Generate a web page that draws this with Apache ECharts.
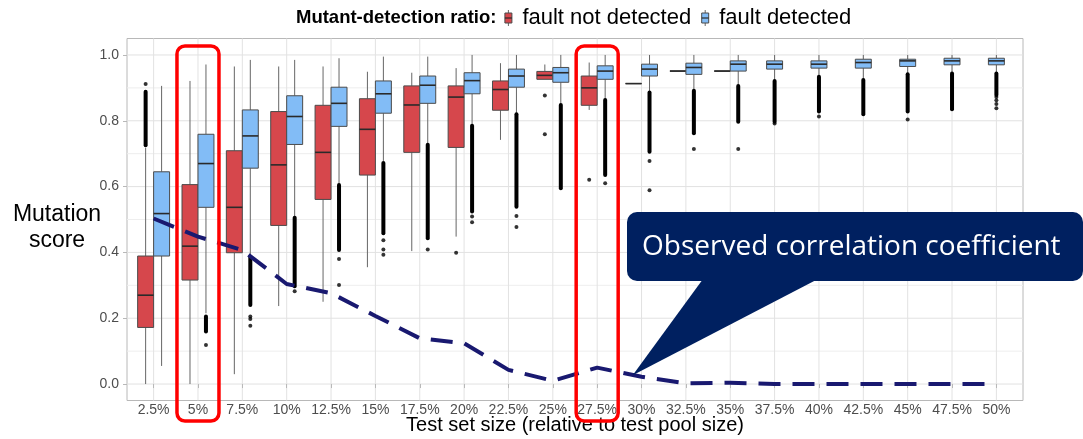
<!DOCTYPE html>
<html>
<head>
<meta charset="utf-8">
<script src="https://cdn.jsdelivr.net/npm/echarts@6/dist/echarts.min.js"></script>
<style>
  html, body { margin: 0; padding: 0; background: #fff; }
  #chart { width: 1083px; height: 439px; }
</style>
</head>
<body>
<div id="chart"></div>
<script>
// test set size categories
const sizes = ["2.5%", "5%", "7.5%", "10%", "12.5%", "15%", "17.5%", "20%", "22.5%", "25%",
  "27.5%", "30%", "32.5%", "35%", "37.5%", "40%", "42.5%", "45%", "47.5%", "50%"];

// box stats: [lower whisker, q1, median, q3, upper whisker]
const notDetected = [
  [0.000, 0.172, 0.270, 0.389, 0.718],
  [0.000, 0.316, 0.419, 0.606, 0.921],
  [0.030, 0.399, 0.537, 0.709, 0.965],
  [0.237, 0.482, 0.666, 0.828, 0.965],
  [0.250, 0.561, 0.704, 0.847, 0.965],
  [0.355, 0.635, 0.774, 0.867, 0.949],
  [0.404, 0.704, 0.848, 0.906, 0.946],
  [0.448, 0.719, 0.872, 0.906, 0.960],
  [0.742, 0.832, 0.895, 0.921, 0.975],
  [0.926, 0.926, 0.938, 0.950, 0.971],
  [0.833, 0.847, 0.900, 0.936, 0.977],
  [0.913, 0.913, 0.913, 0.913, 0.913],
  [0.951, 0.951, 0.951, 0.951, 0.951],
  [0.951, 0.951, 0.951, 0.951, 0.951],
  null, null, null, null, null, null
];
const detected = [
  [0.055, 0.389, 0.518, 0.645, 0.906],
  [0.215, 0.537, 0.670, 0.759, 0.971],
  [0.390, 0.656, 0.754, 0.833, 0.985],
  [0.509, 0.728, 0.813, 0.876, 0.985],
  [0.608, 0.783, 0.853, 0.902, 0.990],
  [0.678, 0.823, 0.882, 0.921, 0.995],
  [0.731, 0.853, 0.908, 0.936, 0.995],
  [0.789, 0.882, 0.922, 0.946, 1.000],
  [0.823, 0.902, 0.936, 0.957, 1.000],
  [0.851, 0.917, 0.946, 0.962, 1.000],
  [0.866, 0.926, 0.951, 0.967, 1.000],
  [0.889, 0.936, 0.957, 0.972, 1.000],
  [0.894, 0.941, 0.962, 0.975, 1.000],
  [0.909, 0.951, 0.972, 0.982, 1.000],
  [0.924, 0.957, 0.972, 0.982, 1.000],
  [0.937, 0.960, 0.972, 0.982, 1.000],
  [0.927, 0.960, 0.977, 0.987, 1.000],
  [0.944, 0.965, 0.982, 0.987, 1.000],
  [0.946, 0.970, 0.982, 0.990, 1.000],
  [0.946, 0.970, 0.982, 0.990, 1.000]
];

// dense outlier columns: [category index, low, high]
const notDetectedRuns = [[0, 0.726, 0.888]];
const detectedRuns = [
  [1, 0.160, 0.205], [2, 0.240, 0.387], [3, 0.297, 0.505], [4, 0.407, 0.605],
  [5, 0.458, 0.672], [6, 0.443, 0.727], [7, 0.524, 0.785], [8, 0.539, 0.820],
  [9, 0.595, 0.848], [10, 0.635, 0.863], [11, 0.706, 0.886], [12, 0.762, 0.891],
  [13, 0.797, 0.906], [14, 0.797, 0.921], [15, 0.828, 0.934], [16, 0.820, 0.924],
  [17, 0.828, 0.941], [18, 0.835, 0.944], [19, 0.878, 0.944]
];
// single outliers: [category index, value]
const notDetectedDots = [[0, 0.912], [7, 0.399], [9, 0.877], [9, 0.759], [10, 0.621]];
const detectedDots = [
  [1, 0.119], [2, 0.205], [2, 0.198], [2, 0.177], [3, 0.282], [4, 0.380], [4, 0.301],
  [5, 0.437], [5, 0.409], [5, 0.393], [6, 0.409], [7, 0.509], [7, 0.492], [8, 0.511],
  [8, 0.477], [10, 0.610], [11, 0.678], [11, 0.589], [12, 0.714], [13, 0.714],
  [14, 0.792], [15, 0.813], [17, 0.804], [19, 0.872], [19, 0.862], [19, 0.851], [19, 0.838]
];

// observed correlation coefficient per test set size
const correlation = [0.503, 0.448, 0.407, 0.304, 0.276, 0.207, 0.139, 0.124, 0.043, 0.010,
  0.050, 0.022, 0.002, 0.004, 0.000, 0.000, 0.000, 0.000, 0.000, 0.000];

const yTicks = [0, 0.2, 0.4, 0.6, 0.8, 1.0];
const yMinor = [0.1, 0.3, 0.5, 0.7, 0.9];

const RED = "#d6474c";
const BLUE = "#82bcf6";
const BOX_W = 0.36;
const DODGE = 0.18;

// ggplot-style dodge: a lone box sits on the category centre
function dodge(i, side) {
  return notDetected[i] && detected[i] ? side * DODGE : 0;
}

function boxData(stats, side) {
  const out = [];
  stats.forEach((s, i) => {
    if (s) out.push([i + 1 + dodge(i, side)].concat(s));
  });
  return out;
}

function runData(runs, side) {
  return runs.map(r => [r[0] + 1 + dodge(r[0], side), r[1], r[2]]);
}

function dotData(dots, side) {
  return dots.map(d => [d[0] + 1 + dodge(d[0], side), d[1]]);
}

function renderBox(fill) {
  return function (params, api) {
    const x = api.value(0);
    const lo = api.coord([x, api.value(1)]);
    const q1 = api.coord([x, api.value(2)]);
    const md = api.coord([x, api.value(3)]);
    const q3 = api.coord([x, api.value(4)]);
    const hi = api.coord([x, api.value(5)]);
    const half = api.size([BOX_W, 0])[0] / 2;
    const cx = lo[0];
    return {
      type: "group",
      children: [
        { type: "line", shape: { x1: cx, y1: hi[1], x2: cx, y2: q3[1] }, style: { stroke: "#666", lineWidth: 1 } },
        { type: "line", shape: { x1: cx, y1: q1[1], x2: cx, y2: lo[1] }, style: { stroke: "#666", lineWidth: 1 } },
        { type: "rect", shape: { x: cx - half, y: q3[1], width: half * 2, height: q1[1] - q3[1] },
          style: { fill: fill, stroke: "#4b4b4b", lineWidth: 1 } },
        { type: "line", shape: { x1: cx - half, y1: md[1], x2: cx + half, y2: md[1] }, style: { stroke: "#2a2a2a", lineWidth: 1.6 } }
      ]
    };
  };
}

function renderRun(params, api) {
  const a = api.coord([api.value(0), api.value(1)]);
  const b = api.coord([api.value(0), api.value(2)]);
  return { type: "line", shape: { x1: a[0], y1: a[1], x2: b[0], y2: b[1] },
    style: { stroke: "#000", lineWidth: 4, lineCap: "round" } };
}

function renderHGrid(params, api) {
  const v = api.value(0);
  const a = api.coord([0.4, v]);
  const b = api.coord([20.6, v]);
  return { type: "line", shape: { x1: a[0], y1: a[1], x2: b[0], y2: b[1] },
    style: { stroke: api.value(1) ? "#e2e2e2" : "#eeeeee", lineWidth: 1 } };
}

function renderVGrid(params, api) {
  const v = api.value(0);
  const a = api.coord([v, -0.05]);
  const b = api.coord([v, 1.05]);
  return { type: "line", shape: { x1: a[0], y1: a[1], x2: b[0], y2: b[1] },
    style: { stroke: "#e2e2e2", lineWidth: 1 } };
}

// text widths for the legend row
const ctx = document.createElement("canvas").getContext("2d");
function textW(txt, font) { ctx.font = font; return ctx.measureText(txt).width; }

function legendKey(x, fill) {
  return {
    type: "group", x: x, y: 18,
    children: [
      { type: "line", shape: { x1: 4, y1: -8, x2: 4, y2: 8 }, style: { stroke: "#666", lineWidth: 1 } },
      { type: "rect", shape: { x: 0.5, y: -5, width: 7, height: 10 }, style: { fill: fill, stroke: "#4b4b4b", lineWidth: 1 } },
      { type: "line", shape: { x1: 0.5, y1: 0, x2: 7.5, y2: 0 }, style: { stroke: "#2a2a2a", lineWidth: 1.2 } }
    ]
  };
}

const LEG_FONT = "22px 'Liberation Sans', Arial, sans-serif";
const LEG_BOLD = "bold 18.5px 'Liberation Sans', Arial, sans-serif";
let lx = 296;
const legend = [];
legend.push({ type: "text", x: lx, y: 18, style: { text: "Mutant-detection ratio:", font: LEG_BOLD, fill: "#000", verticalAlign: "middle" } });
lx += textW("Mutant-detection ratio:", LEG_BOLD) + 8;
legend.push(legendKey(lx, RED));
lx += 8 + 10;
legend.push({ type: "text", x: lx, y: 18, style: { text: "fault not detected", font: LEG_FONT, fill: "#000", verticalAlign: "middle" } });
lx += textW("fault not detected", LEG_FONT) + 10;
legend.push(legendKey(lx, BLUE));
lx += 8 + 10;
legend.push({ type: "text", x: lx, y: 18, style: { text: "fault detected", font: LEG_FONT, fill: "#000", verticalAlign: "middle" } });

const chart = echarts.init(document.getElementById("chart"));

const option = {
  animation: false,
  grid: { left: 127, right: 60, top: 38.5, bottom: 38.5, outerBoundsMode: "none", containLabel: false,
    show: true, borderColor: "#b8b8b8", borderWidth: 1, backgroundColor: "#fff" },
  xAxis: {
    type: "value", min: 0.4, max: 20.6,
    name: "Test set size (relative to test pool size)",
    nameLocation: "middle", nameGap: 15, nameMoveOverlap: false,
    nameTextStyle: { fontSize: 20, color: "#000", fontFamily: "Liberation Sans", verticalAlign: "top" },
    axisLine: { show: false },
    axisTick: { show: true, customValues: sizes.map((s, i) => i + 1), length: 4, lineStyle: { color: "#b8b8b8" } },
    axisLabel: { customValues: sizes.map((s, i) => i + 1), formatter: v => sizes[Math.round(v) - 1],
      fontSize: 14, color: "#4d4d4d", fontFamily: "Liberation Sans", margin: 3 },
    splitLine: { show: false }
  },
  yAxis: {
    type: "value", min: -0.05, max: 1.05,
    axisLine: { show: false },
    axisTick: { show: true, customValues: yTicks, length: 4, lineStyle: { color: "#b8b8b8" } },
    axisLabel: { customValues: yTicks, formatter: v => v.toFixed(1),
      fontSize: 14, color: "#4d4d4d", fontFamily: "Liberation Sans", margin: 8 },
    splitLine: { show: false }
  },
  graphic: [
    { type: "text", x: 57, y: 215, style: { text: "Mutation", font: "23px 'Liberation Sans', Arial", fill: "#000", align: "center", verticalAlign: "middle" } },
    { type: "text", x: 57, y: 241, style: { text: "score", font: "23px 'Liberation Sans', Arial", fill: "#000", align: "center", verticalAlign: "middle" } }
  ].concat(legend),
  series: [
    { type: "custom", name: "hgrid", silent: true, z: 0, renderItem: renderHGrid,
      data: yTicks.map(v => [v, 1]).concat(yMinor.map(v => [v, 0])) },
    { type: "custom", name: "vgrid", silent: true, z: 0, renderItem: renderVGrid,
      data: sizes.map((s, i) => [i + 1]) },
    { type: "custom", name: "fault not detected", z: 2, renderItem: renderBox(RED),
      encode: { x: 0, y: [1, 2, 3, 4, 5] }, data: boxData(notDetected, -1) },
    { type: "custom", name: "fault detected", z: 2, renderItem: renderBox(BLUE),
      encode: { x: 0, y: [1, 2, 3, 4, 5] }, data: boxData(detected, 1) },
    { type: "custom", name: "runs", z: 3, renderItem: renderRun, encode: { x: 0, y: [1, 2] },
      data: runData(notDetectedRuns, -1).concat(runData(detectedRuns, 1)) },
    { type: "scatter", name: "outliers", z: 3, symbolSize: 4, itemStyle: { color: "#000" },
      data: dotData(notDetectedDots, -1).concat(dotData(detectedDots, 1)) },
    { type: "line", name: "correlation", z: 4, symbol: "none",
      lineStyle: { color: "#191970", width: 4, type: [22, 12], cap: "butt" },
      data: correlation.map((v, i) => [i + 1, v]) }
  ]
};

chart.setOption(option);

// red highlight frames around 5% and 27.5%, plus the callout
const frames = [2, 11].map((c, k) => {
  const p = chart.convertToPixel({ gridIndex: 0 }, [c, 0]);
  return { type: "rect", id: "frame" + k, z: 10, shape: { x: p[0] - 21, y: 46, width: 42, height: 375, r: 8 },
    style: { fill: "none", stroke: "#ff0000", lineWidth: 3.5 } };
});
const tip = chart.convertToPixel({ gridIndex: 0 }, [11.8, 0.027]);
chart.setOption({
  graphic: frames.concat([
    { type: "polygon", id: "tail", z: 11, shape: { points: [[703, 279], [818, 279], tip] }, style: { fill: "#002060" } },
    { type: "rect", id: "callout", z: 11, shape: { x: 627, y: 212, width: 456, height: 69, r: 10 }, style: { fill: "#002060" } },
    { type: "text", id: "callout-text", z: 12, x: 642, y: 247,
      style: { text: "Observed correlation coefficient", font: "28px 'Open Sans', sans-serif", fill: "#fff", verticalAlign: "middle" } }
  ])
});
</script>
</body>
</html>
